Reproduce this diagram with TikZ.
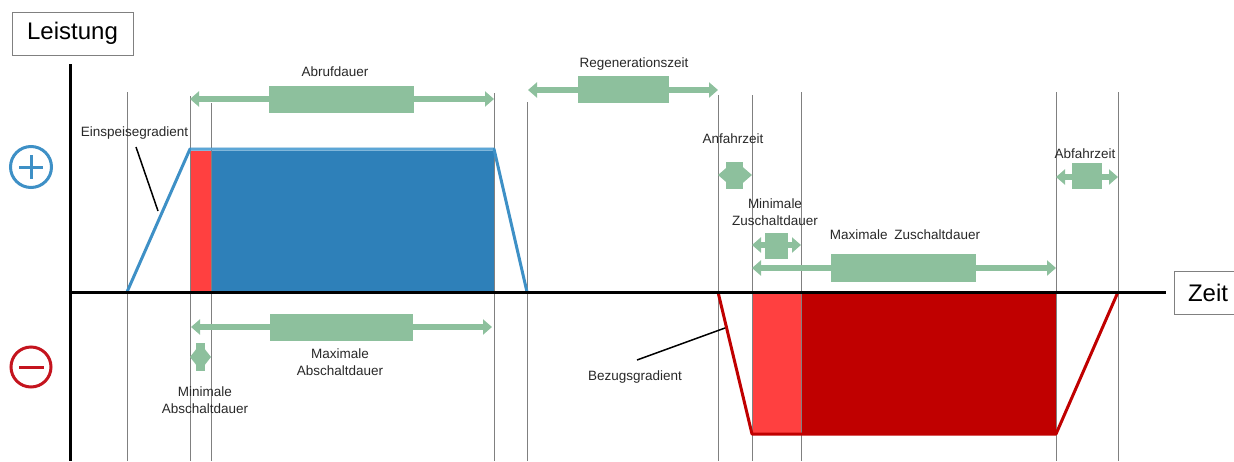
\documentclass[tikz,border=0pt]{standalone}
\usepackage{fontspec}
\setmainfont{Liberation Sans}
\usetikzlibrary{arrows.meta}
\definecolor{arrowgreen}{RGB}{141,192,157}
\definecolor{bluefill}{RGB}{46,128,185}
\definecolor{blueline}{RGB}{62,144,198}
\definecolor{bluetop}{RGB}{92,166,214}
\definecolor{redlight}{RGB}{255,64,64}
\definecolor{reddark}{RGB}{192,0,0}
\definecolor{signred}{RGB}{196,20,30}
\definecolor{darktext}{RGB}{40,40,40}
\tikzset{
  gridline/.style={draw=gray, line width=0.9pt},
  axis/.style={draw=black, line width=3pt},
  garrow/.style={draw=arrowgreen, line width=6.5pt,
    {Triangle[width=15pt,length=9pt]}-{Triangle[width=15pt,length=9pt]}},
  gbar/.style={fill=arrowgreen, draw=none, inner sep=0pt},
  lbl/.style={font=\fontsize{13.5}{17}\selectfont, text=darktext, align=center, inner sep=0pt},
  bigbox/.style={draw=gray, line width=1pt, font=\fontsize{24}{28}\selectfont,
    text=black, inner sep=0pt},
  leader/.style={draw=black, line width=1.5pt},
}
\begin{document}
\begin{tikzpicture}[x=1pt,y=-1pt]
\useasboundingbox (0,0) rectangle (1234,461);
\clip (0,0) rectangle (1234,461);

% filled power blocks
\fill[redlight] (190,151) rectangle (211,292);
\fill[bluefill] (211,151) rectangle (494,292);
\fill[redlight] (752,292) rectangle (801,434);
\fill[reddark] (801,292) rectangle (1056,434);

% vertical time marks
\foreach \x/\t in {127/92,190/96,211/103,494/93,527/102,718/95,752/95,801/92,1056/92,1118/92}
  \draw[gridline] (\x,\t) -- (\x,461);

% power curves
\draw[blueline, line width=3pt, line join=round] (127,292) -- (190,149) -- (494,149) -- (527,292);
\draw[bluetop, line width=2pt] (191,148.5) -- (493,148.5);
\draw[reddark, line width=3pt, line join=round] (718,292) -- (752,434) -- (1056,434) -- (1118,292);

% axes
\draw[axis] (70,64) -- (70,461);
\draw[axis] (68.5,292) -- (1166,292);

\node[bigbox, minimum width=121pt, minimum height=43pt] (leistung) at (72.5,33.5) {Leistung};
\node[bigbox, minimum width=68pt, minimum height=43pt] (zeit) at (1208,292.5) {Zeit};

% sign symbols
\node[circle, draw=blueline, line width=3pt, minimum size=41pt, inner sep=0pt] (plus) at (31,167) {};
\draw[blueline, line width=3pt] (19,167) -- (43,167) (31,155) -- (31,179);
\node[circle, draw=signred, line width=3pt, minimum size=40pt, inner sep=0pt] (minus) at (31,367) {};
\draw[signred, line width=3pt] (19,367) -- (44,367);

% gradient labels
\node[lbl] (einsp) at (134.5,133) {Einspeisegradient};
\coordinate (einspA) at (136,147);
\coordinate (einspB) at (158,211);
\draw[leader] (einspA) -- (einspB);
\node[lbl] (bezug) at (635,377) {Bezugsgradient};
\coordinate (bezugA) at (637,360);
\coordinate (bezugB) at (725,328);
\draw[leader] (bezugA) -- (bezugB);

% Abrufdauer
\coordinate (abL) at (190,99);
\coordinate (abR) at (494,99);
\draw[garrow] (abL) -- (abR);
\node[gbar, minimum width=145pt, minimum height=27pt] (abbar) at (341.5,99.5) {};
\node[lbl] (ablbl) at (335,72) {Abrufdauer};

% Regenerationszeit
\coordinate (reL) at (528,90);
\coordinate (reR) at (718,90);
\draw[garrow] (reL) -- (reR);
\node[gbar, minimum width=91pt, minimum height=27pt] (rebar) at (623.5,89.5) {};
\node[lbl] (relbl) at (634,64) {Regenerationszeit};

% Anfahrzeit
\coordinate (anL) at (718,175);
\coordinate (anR) at (752,175);
\draw[garrow] (anL) -- (anR);
\node[gbar, minimum width=17pt, minimum height=27pt] (anbar) at (734.5,175.5) {};
\node[lbl] (anlbl) at (733,139) {Anfahrzeit};

% Minimale Zuschaltdauer
\coordinate (mzL) at (752,245);
\coordinate (mzR) at (801,245);
\draw[garrow] (mzL) -- (mzR);
\node[gbar, minimum width=23pt, minimum height=26pt] (mzbar) at (776.5,246) {};
\node[lbl] (mzlbl) at (775,212) {Minimale\\Zuschaltdauer};

% Maximale Zuschaltdauer
\coordinate (xzL) at (752,268);
\coordinate (xzR) at (1056,268);
\draw[garrow] (xzL) -- (xzR);
\node[gbar, minimum width=145pt, minimum height=28pt] (xzbar) at (903.5,268) {};
\node[lbl] (xzlbl) at (905,235) {Maximale\enspace Zuschaltdauer};

% Abfahrzeit
\coordinate (afL) at (1056,177);
\coordinate (afR) at (1118,177);
\draw[garrow] (afL) -- (afR);
\node[gbar, minimum width=30pt, minimum height=26pt] (afbar) at (1087,176) {};
\node[lbl] (aflbl) at (1085,154) {Abfahrzeit};

% Maximale Abschaltdauer
\coordinate (xaL) at (191,327);
\coordinate (xaR) at (492,327);
\draw[garrow] (xaL) -- (xaR);
\node[gbar, minimum width=143pt, minimum height=27pt] (xabar) at (341.5,327.5) {};
\node[lbl] (xalbl) at (340,362) {Maximale\\Abschaltdauer};

% Minimale Abschaltdauer
\coordinate (maL) at (190,357);
\coordinate (maR) at (211,357);
\draw[garrow, {Triangle[width=15pt,length=6pt]}-{Triangle[width=15pt,length=6pt]}] (maL) -- (maR);
\node[gbar, minimum width=9pt, minimum height=28pt] (mabar) at (200.5,357) {};
\node[lbl] (malbl) at (205,400) {Minimale\\Abschaltdauer};
\end{tikzpicture}
\end{document}
